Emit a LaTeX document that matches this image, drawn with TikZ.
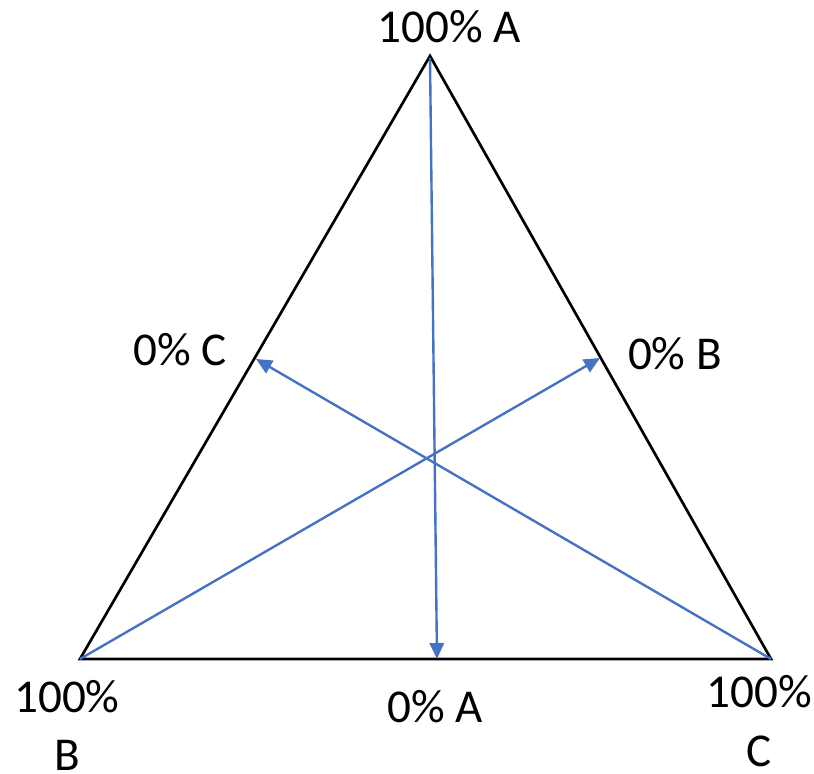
\documentclass[tikz,border=0pt]{standalone}
\usepackage{tikz}
\usetikzlibrary{arrows.meta}
\usepackage{xcolor}
\usepackage{fontspec}
\setmainfont{Carlito}
\definecolor{officeblue}{RGB}{68,114,196}

\begin{document}
\begin{tikzpicture}[
        edge/.style={line width=1.9pt, black, line join=miter},
        ray/.style={line width=1.7pt, officeblue, -{Triangle[length=0.4cm, width=0.36cm]}},
        lbl/.style={inner sep=0pt, align=center, font=\fontsize{33.5}{41.5}\selectfont}
    ]
    \useasboundingbox (0,0) rectangle (20.35,19.35);

    % Corners
    \coordinate (A) at (10.75,17.95);
    \coordinate (B) at (2.0,2.875);
    \coordinate (C) at (19.275,2.875);

    % Ends of the rays on the edges
    \coordinate (onBC) at (10.925,2.875);
    \coordinate (onAB) at (6.4,10.375);
    \coordinate (onAC) at (15.0,10.4);

    % Triangle
    \draw[edge] (A) -- (B) -- (C) -- cycle;

    % Rays
    \draw[ray] ([yshift=-0.05cm]A) -- (onBC);
    \draw[ray] (B) -- (onAC);
    \draw[ray] (C) -- (onAB);

    % Labels
    \node[lbl] (topA) at (11.225,18.675) {100\% A};
    \node[lbl] (zeroC) at (4.5,10.6) {0\% C};
    \node[lbl] (zeroB) at (16.875,10.5) {0\% B};
    \node[lbl] (fullB) at (1.675,1.22) {100\%\\B};
    \node[lbl] (zeroA) at (10.875,1.675) {0\% A};
    \node[lbl] (fullC) at (18.975,1.32) {100\%\\C};
\end{tikzpicture}
\end{document}
